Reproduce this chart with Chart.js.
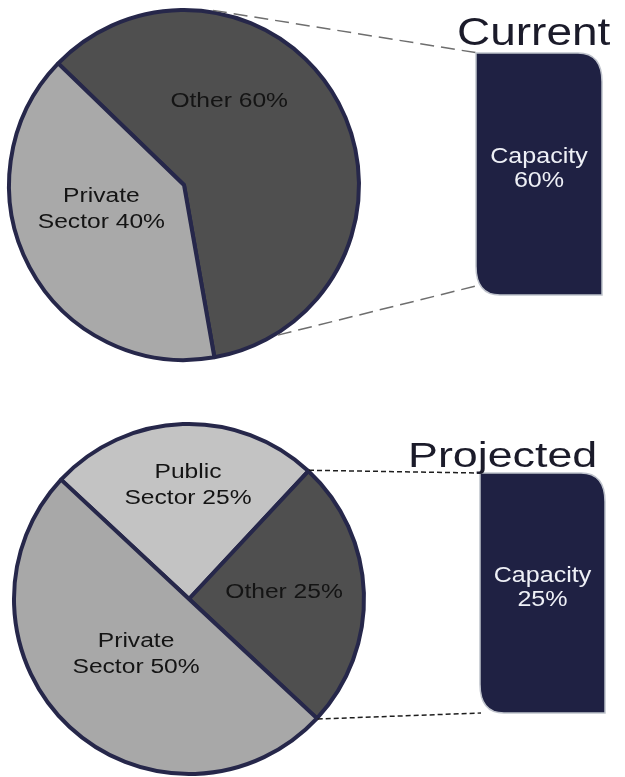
<!DOCTYPE html>
<html>
<head>
<meta charset="utf-8">
<script src="https://cdn.jsdelivr.net/npm/chart.js@4.4.0/dist/chart.umd.min.js"></script>
<style>
  body { margin: 0; background: #fff; }
  #wrap { position: relative; width: 625px; height: 777px; }
  canvas { position: absolute; left: 0; }
</style>
</head>
<body>
<div id="wrap">
  <canvas id="current" width="625" height="400" style="top:0"></canvas>
  <canvas id="projected" width="625" height="377" style="top:400px"></canvas>
</div>
<script>
const currentLabels = ['Other', 'Private Sector'];
const currentValues = [60, 40];
const currentColors = ['#4f4f4f', '#a9a9a9'];

const projectedLabels = ['Public Sector', 'Other', 'Private Sector'];
const projectedValues = [25, 25, 50];
const projectedColors = ['#c3c3c3', '#4f4f4f', '#a8a8a8'];

const capacityValues = [60, 25];

const FONT = '"Liberation Sans", Arial, Helvetica, sans-serif';

// angle in degrees, clockwise from 12 o'clock
function polar(cx, cy, r, deg) {
    const a = (deg - 90) * Math.PI / 180;
    return { x: cx + r * Math.cos(a), y: cy + r * Math.sin(a) };
}

// the source text is stretched sideways, hence the x scale
function textLines(ctx, lines, x, y, size, lineH, sx, color) {
    ctx.save();
    ctx.fillStyle = color;
    ctx.font = size + 'px ' + FONT;
    ctx.textAlign = 'center';
    ctx.textBaseline = 'alphabetic';
    lines.forEach((t, i) => {
        const by = y + (i - (lines.length - 1) / 2) * lineH + size * 0.36;
        ctx.save();
        ctx.translate(x, by);
        ctx.scale(sx, 1);
        ctx.fillText(t, 0, 0);
        ctx.restore();
    });
    ctx.restore();
}

function sliceText(label, value) {
    const words = label.split(' ');
    if (words.length == 1) return [label + ' ' + value + '%'];
    return [words[0], words.slice(1).join(' ') + ' ' + value + '%'];
}

function boxPath(ctx, x, y, w, h, r) {
    ctx.beginPath();
    ctx.moveTo(x, y);
    ctx.lineTo(x + w - r, y);
    ctx.quadraticCurveTo(x + w, y, x + w, y + r * 1.2);
    ctx.lineTo(x + w, y + h);
    ctx.lineTo(x + r, y + h);
    ctx.quadraticCurveTo(x, y + h, x, y + h - r * 1.2);
    ctx.closePath();
}

function overlay(cfg) {
    return {
        id: 'overlay',
        afterDraw(chart) {
            const ctx = chart.ctx;
            const arcs = chart.getDatasetMeta(0).data;
            const cx = arcs[0].x, cy = arcs[0].y, r = arcs[0].outerRadius;
            const labels = chart.data.labels;
            const values = chart.data.datasets[0].data;

            arcs.forEach((arc, i) => {
                const p = polar(cx, cy, r * cfg.labelAt[i][1], cfg.labelAt[i][0]);
                textLines(ctx, sliceText(labels[i], values[i]), p.x, p.y, 20, 26, 1.23, '#141414');
            });

            // zoom lines from the pie to the capacity box
            let starts;
            if (cfg.fromSlice != null) {
                const a = arcs[cfg.fromSlice];
                starts = [a.startAngle, a.endAngle].map(t => ({
                    x: cx + (r + 1) * Math.cos(t), y: cy + (r + 1) * Math.sin(t)
                }));
            } else {
                starts = cfg.fromAngles.map(d => polar(cx, cy, r + 2, d));
            }
            ctx.save();
            ctx.strokeStyle = cfg.lineColor;
            ctx.lineWidth = 1.5;
            ctx.setLineDash(cfg.dash);
            starts.forEach((p, i) => {
                ctx.beginPath();
                ctx.moveTo(p.x, p.y);
                ctx.lineTo(cfg.ends[i][0], cfg.ends[i][1]);
                ctx.stroke();
            });
            ctx.restore();

            const b = cfg.box;
            ctx.save();
            boxPath(ctx, b.x, b.y, b.w, b.h, 24);
            ctx.fillStyle = '#1f2143';
            ctx.fill();
            ctx.strokeStyle = '#bfc3cc';
            ctx.lineWidth = 1.5;
            ctx.stroke();
            ctx.restore();
            textLines(ctx, ['Capacity', cfg.capacity + '%'], b.x + b.w / 2, b.y + b.h / 2 - 7,
                22, 24, 1.14, '#eef0f6');

            const t = cfg.title;
            ctx.save();
            ctx.fillStyle = '#1b1b2a';
            ctx.font = t.size + 'px ' + FONT;
            ctx.textAlign = 'left';
            ctx.translate(t.x, t.y);
            ctx.scale(t.sx, 1);
            ctx.fillText(t.text, 0, 0);
            ctx.restore();
        }
    };
}

function pieConfig(labels, values, colors, rotation, padding, plugin) {
    return {
        type: 'pie',
        data: {
            labels: labels,
            datasets: [{
                data: values,
                backgroundColor: colors,
                borderColor: '#26274a',
                borderWidth: 4,
                hoverOffset: 0
            }]
        },
        options: {
            responsive: false,
            animation: false,
            events: [],
            rotation: rotation,
            radius: 175,
            layout: { padding: padding },
            plugins: {
                legend: { display: false },
                tooltip: { enabled: false }
            }
        },
        plugins: [plugin]
    };
}

new Chart(document.getElementById('current'), pieConfig(
    currentLabels, currentValues, currentColors, -46,
    { left: 8, right: 265, top: 9, bottom: 39 },
    overlay({
        labelAt: [[28, 0.55], [254.5, 0.49]],
        fromAngles: [9.4, 148],
        ends: [[478, 53], [480, 285]],
        lineColor: '#6e6e6e',
        dash: [14, 7],
        box: { x: 476, y: 53, w: 126, h: 242 },
        capacity: capacityValues[0],
        title: { text: 'Current', x: 457, y: 45, size: 38, sx: 1.21 }
    })
));

new Chart(document.getElementById('projected'), pieConfig(
    projectedLabels, projectedValues, projectedColors, -47,
    { left: 14, right: 261, top: 24, bottom: 3 },
    overlay({
        labelAt: [[359.5, 0.66], [85.2, 0.545], [224.7, 0.43]],
        fromSlice: 1,
        ends: [[481, 73], [481, 313]],
        lineColor: '#1e1e1e',
        dash: [5, 3],
        box: { x: 480, y: 73, w: 125, h: 240 },
        capacity: capacityValues[1],
        title: { text: 'Projected', x: 408, y: 67, size: 35, sx: 1.28 }
    })
));
</script>
</body>
</html>
